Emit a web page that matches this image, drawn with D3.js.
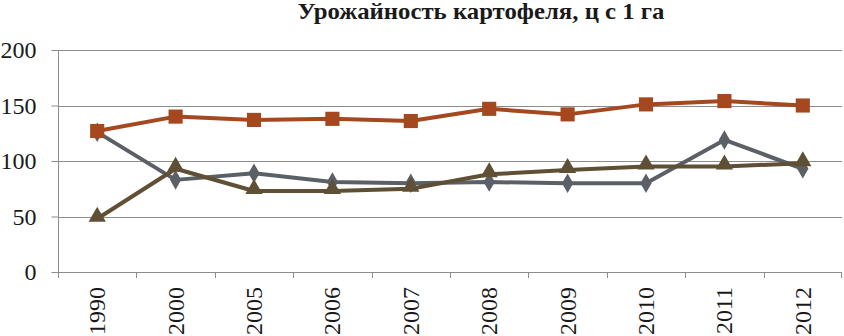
<!DOCTYPE html>
<html>
<head>
<meta charset="utf-8">
<script src="https://cdn.jsdelivr.net/npm/d3@7"></script>
<style>
  body { margin: 0; background: #fff; }
</style>
</head>
<body>
<svg id="drawing-area"></svg>
<script>
// years on the x axis
var years = ["1990", "2000", "2005", "2006", "2007", "2008", "2009", "2010", "2011", "2012"];
// three series
var squares  = [127, 140, 137, 138, 136, 147, 142, 151, 154, 150];
var diamonds = [126, 83, 89, 81, 80, 81, 80, 80, 119, 93];
var triangles = [48, 93, 73, 73, 75, 88, 92, 95, 95, 98];
var yTicks = [0, 50, 100, 150, 200];
var title = "Урожайность картофеля, ц с 1 га";

var width = 844;
var height = 336;
var plotLeft = 58, plotRight = 842, plotTop = 50, plotBottom = 272;
var serif = "Liberation Serif";

var svg = d3.select("#drawing-area")
    .attr("width", width)
    .attr("height", height)
    .style("display", "block");

var xScale = d3.scaleBand()
    .domain(years)
    .range([plotLeft, plotRight]);

var yScale = d3.scaleLinear()
    .domain([0, 200])
    .range([plotBottom, plotTop]);

// title
svg.append("text")
    .attr("x", 481)
    .attr("y", 19)
    .attr("text-anchor", "middle")
    .style("font-family", serif)
    .style("font-size", "23px")
    .style("font-weight", "bold")
    .attr("fill", "#1a1a1a")
    .attr("textLength", 367)
    .attr("lengthAdjust", "spacingAndGlyphs")
    .text(title);

// gridlines
svg.selectAll(".grid")
    .data(yTicks.filter(function(d){ return d > 0; }))
    .enter()
    .append("line")
    .attr("class", "grid")
    .attr("x1", plotLeft)
    .attr("x2", plotRight)
    .attr("y1", function(d){ return Math.round(yScale(d)) + 0.5; })
    .attr("y2", function(d){ return Math.round(yScale(d)) + 0.5; })
    .attr("stroke", "#8c8c8c")
    .attr("stroke-width", 1);

// y axis
var yAxis = d3.axisLeft(yScale)
    .tickValues(yTicks)
    .tickSize(7)
    .tickPadding(15)
    .tickFormat(d3.format("d"));

var gy = svg.append("g")
    .attr("transform", "translate(" + (plotLeft + 0.5) + ",0)")
    .call(yAxis);
gy.select(".domain").attr("stroke", "#8c8c8c").attr("d", "M0," + plotTop + "V" + plotBottom);
gy.selectAll(".tick line").attr("stroke", "#8c8c8c");
gy.selectAll(".tick text")
    .attr("fill", "#1a1a1a")
    .style("font-family", serif)
    .style("font-size", "24px");

// x axis: ticks at category boundaries
var xAxisLine = svg.append("g");
xAxisLine.append("line")
    .attr("x1", plotLeft)
    .attr("x2", plotRight)
    .attr("y1", plotBottom + 0.5)
    .attr("y2", plotBottom + 0.5)
    .attr("stroke", "#8c8c8c");
xAxisLine.selectAll(".xtick")
    .data(years)
    .enter()
    .append("line")
    .attr("class", "xtick")
    .attr("x1", function(d){ return Math.round(xScale(d)) + 0.5; })
    .attr("x2", function(d){ return Math.round(xScale(d)) + 0.5; })
    .attr("y1", plotBottom)
    .attr("y2", plotBottom + 6)
    .attr("stroke", "#8c8c8c");
xAxisLine.append("line")
    .attr("x1", plotRight - 0.5).attr("x2", plotRight - 0.5)
    .attr("y1", plotBottom).attr("y2", plotBottom + 6)
    .attr("stroke", "#8c8c8c");

svg.selectAll(".year-labels")
    .data(years)
    .enter()
    .append("text")
    .attr("class", "year-labels")
    .attr("transform", function(d){
        return "translate(" + (xScale(d) + xScale.bandwidth() / 2 + 8) + "," + (plotBottom + 15) + ") rotate(-90)";
    })
    .attr("text-anchor", "end")
    .style("font-family", serif)
    .style("font-size", "24px")
    .attr("fill", "#1a1a1a")
    .text(function(d){ return d; });

// series
var series = [
    {values: diamonds, color: "#5b6067", marker: "diamond"},
    {values: triangles, color: "#5f4f35", marker: "triangle"},
    {values: squares, color: "#a5481f", marker: "square"}
];

var line = d3.line()
    .x(function(d, i){ return xScale(years[i]) + xScale.bandwidth() / 2; })
    .y(function(d){ return yScale(d); });

var symbols = {
    diamond: d3.symbol().type(d3.symbolDiamond).size(110),
    triangle: d3.symbol().type(d3.symbolTriangle).size(130),
    square: d3.symbol().type(d3.symbolSquare).size(200)
};

series.forEach(function(s){
    svg.append("path")
        .attr("d", line(s.values))
        .attr("fill", "none")
        .attr("stroke", s.color)
        .attr("stroke-width", 4)
        .attr("stroke-linejoin", "round");
});

series.forEach(function(s){
    svg.selectAll(".m-" + s.marker)
        .data(s.values)
        .enter()
        .append("path")
        .attr("class", "m-" + s.marker)
        .attr("transform", function(d, i){
            var dy = s.marker == "triangle" ? -2 : 0;
            return "translate(" + (xScale(years[i]) + xScale.bandwidth() / 2) + "," + (yScale(d) + dy) + ")";
        })
        .attr("d", symbols[s.marker]())
        .attr("fill", s.color);
});
</script>
</body>
</html>
